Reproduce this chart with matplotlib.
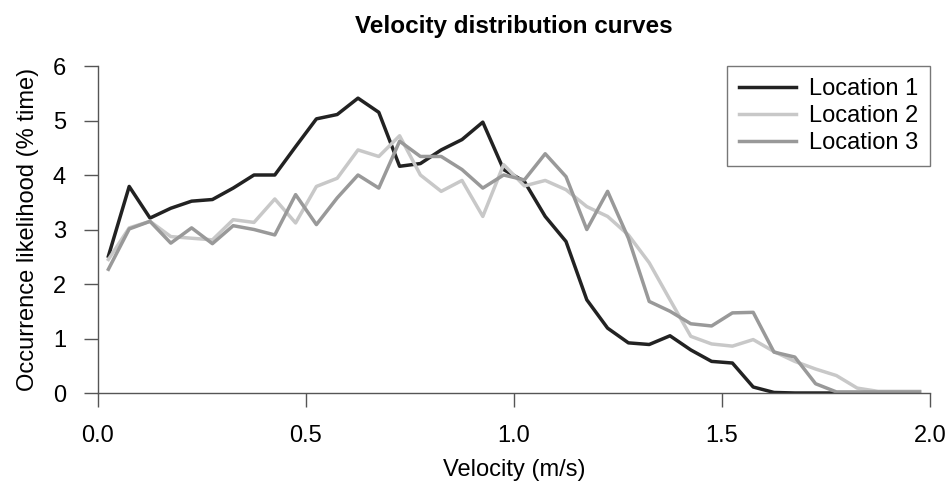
import matplotlib
matplotlib.use("Agg")
import matplotlib.pyplot as plt

# velocidade (m/s), centros das classes
velocity = [0.025 + 0.05 * i for i in range(40)]

location_1 = [2.51, 3.79, 3.21, 3.39, 3.52, 3.55, 3.76, 4.00, 4.00, 4.52,
              5.03, 5.11, 5.41, 5.15, 4.16, 4.21, 4.46, 4.65, 4.97, 4.10,
              3.88, 3.24, 2.78, 1.71, 1.19, 0.92, 0.89, 1.05, 0.79, 0.58,
              0.55, 0.11, 0.01, 0.00, 0.00, 0.00]
location_2 = [2.45, 3.03, 3.15, 2.87, 2.84, 2.81, 3.18, 3.13, 3.56, 3.12,
              3.79, 3.94, 4.46, 4.34, 4.72, 4.00, 3.70, 3.90, 3.24, 4.19,
              3.80, 3.90, 3.73, 3.42, 3.24, 2.90, 2.39, 1.71, 1.04, 0.90,
              0.86, 0.98, 0.76, 0.58, 0.44, 0.32, 0.09, 0.03, 0.03, 0.03]
location_3 = [2.27, 3.01, 3.15, 2.75, 3.03, 2.74, 3.07, 3.00, 2.90, 3.64,
              3.09, 3.58, 4.00, 3.76, 4.62, 4.34, 4.34, 4.10, 3.76, 4.00,
              3.91, 4.39, 3.97, 3.00, 3.70, 2.84, 1.68, 1.50, 1.27, 1.23,
              1.47, 1.48, 0.75, 0.66, 0.17, 0.02, 0.02, 0.02, 0.02, 0.02]

plt.rcParams["font.family"] = ["Liberation Sans", "DejaVu Sans"]

fig = plt.figure(figsize=(9.53, 4.86), dpi=100)
ax = fig.add_axes([98 / 953, 93 / 486, 832 / 953, 327 / 486])

ax.plot(velocity[:len(location_1)], location_1, color="#222222", lw=2.5, label="Location 1")
ax.plot(velocity, location_2, color="#c8c8c8", lw=2.5, label="Location 2")
ax.plot(velocity, location_3, color="#999999", lw=2.5, label="Location 3")

ax.set_xlim(0, 2)
ax.set_ylim(0, 6)
ax.set_xticks([0.0, 0.5, 1.0, 1.5, 2.0])
ax.set_xticklabels(["0.0", "0.5", "1.0", "1.5", "2.0"])
ax.set_yticks(range(7))
ax.spines["top"].set_visible(False)
ax.spines["right"].set_visible(False)
for s in ("left", "bottom"):
    ax.spines[s].set_color("#555555")
    ax.spines[s].set_linewidth(1.0)
ax.tick_params(direction="out", length=10, width=1, colors="#555555",
               labelcolor="black", labelsize=17, pad=13)

ax.set_xlabel("Velocity (m/s)", fontsize=17, labelpad=9)
ax.set_ylabel("Occurrence likelihood (% time)", fontsize=17, labelpad=10)
ax.set_title("Velocity distribution curves", fontsize=17.5, fontweight="bold", pad=24)

leg = ax.legend(loc="upper right", bbox_to_anchor=(1.0, 1.0), borderaxespad=0,
                fontsize=17, frameon=True, fancybox=False, handlelength=2.4,
                handletextpad=0.55, labelspacing=0.22, borderpad=0.5)
leg.get_frame().set_edgecolor("#555555")
leg.get_frame().set_linewidth(1.0)

fig.savefig("out.png", dpi=100)
